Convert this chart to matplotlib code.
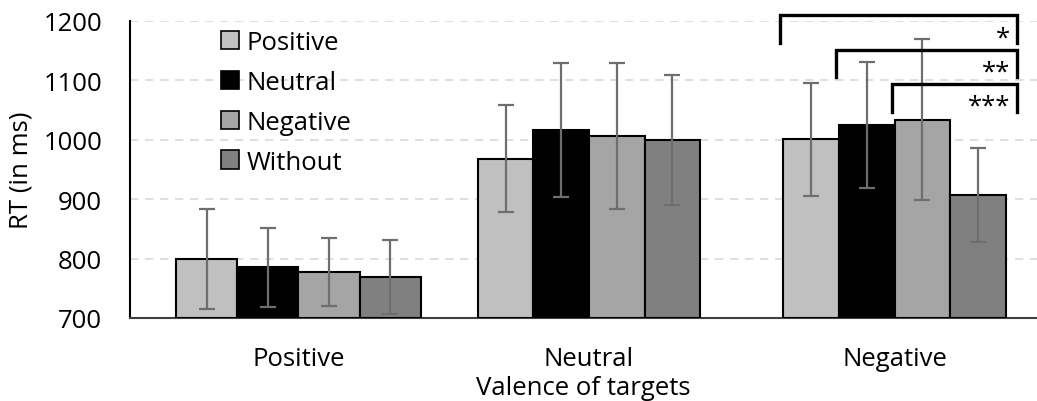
import matplotlib.pyplot as plt
from matplotlib.patches import Patch

# valence of targets (x categories) and primes (series)
target_valence = ["Positive", "Neutral", "Negative"]
prime_labels = ["Positive", "Neutral", "Negative", "Without"]

# mean RT per prime type, one value per target valence
rt_prime_positive = [799, 968, 1001]
rt_prime_neutral = [785, 1016, 1025]
rt_prime_negative = [778, 1006, 1034]
rt_prime_without = [769, 1000, 907]

# error bar half-lengths
err_prime_positive = [84, 90, 95]
err_prime_neutral = [66, 113, 106]
err_prime_negative = [57, 123, 136]
err_prime_without = [63, 109, 79]

# significance markers in the Negative-target group (start bar -> last bar)
sig_start_bar = [0, 1, 2]
sig_labels = ["*", "**", "***"]

means = [rt_prime_positive, rt_prime_neutral, rt_prime_negative, rt_prime_without]
errs = [err_prime_positive, err_prime_neutral, err_prime_negative, err_prime_without]
colors = ["#c0c0c0", "#000000", "#a5a5a5", "#808080"]

# layout
group_x = [0, 0.975, 2.0]
bar_w = [0.205, 0.1865, 0.1865]
FONT = "Open Sans"
FS = 18.5

plt.rcParams["font.family"] = [FONT, "DejaVu Sans"]

fig = plt.figure(figsize=(10.37, 4.02), dpi=100)
ax = fig.add_axes([0.1254, 0.2065, 0.8746, 0.7388])


def bar_left(g, i):
    return group_x[g] + (i - 2) * bar_w[g]


for i in range(4):
    for g in range(3):
        x = bar_left(g, i) + bar_w[g] / 2
        ax.bar(x, means[i][g] - 700, bottom=700, width=bar_w[g], color=colors[i],
               edgecolor="black", linewidth=1.5, zorder=3)
        ax.errorbar(x, means[i][g], yerr=errs[i][g], fmt="none", ecolor="#6e6e6e",
                    elinewidth=1.6, capsize=6, capthick=1.6, zorder=4)

# significance brackets
bracket_top = [1210, 1152, 1094]
leg = 47
right = bar_left(2, 3) + bar_w[2] + 0.037
for k, start in enumerate(sig_start_bar):
    left = bar_left(2, start) - 0.01
    top = bracket_top[k]
    ax.plot([left, left, right, right], [top - leg, top, top, top - leg],
            color="black", lw=2.4, clip_on=False, zorder=5, solid_joinstyle="miter")
    ax.text(right - 0.022, top - 49, sig_labels[k], ha="right", va="baseline",
            fontsize=FS, zorder=5)

ax.set_xlim(-0.565, 2.478)
ax.set_ylim(700, 1200)
ax.set_yticks([700, 800, 900, 1000, 1100, 1200])
ax.set_xticks(group_x)
ax.set_xticklabels(target_valence)
ax.tick_params(axis="both", length=0, labelsize=FS)
ax.tick_params(axis="y", pad=20)
ax.tick_params(axis="x", pad=20)
ax.yaxis.grid(True, color="#d9d9d9", linestyle=(0, (5, 4)), linewidth=1.2, zorder=0)
ax.set_axisbelow(True)

for s in ["top", "right"]:
    ax.spines[s].set_visible(False)
ax.spines["left"].set_linewidth(1.5)
ax.spines["bottom"].set_linewidth(1.5)
ax.spines["bottom"].set_color("#404040")

ax.set_xlabel("Valence of targets", fontsize=FS, labelpad=3)
ax.set_ylabel("RT (in ms)", fontsize=FS, labelpad=7)

handles = [Patch(facecolor=c, edgecolor="black", linewidth=1.2) for c in colors]
ax.legend(handles, prime_labels, loc="upper left", bbox_to_anchor=(0.1, 0.97),
          frameon=False, fontsize=FS, handlelength=0.72, handleheight=0.72,
          handletextpad=0.3, labelspacing=0.58, borderpad=0, borderaxespad=0)

fig.savefig("out.png", dpi=100)
